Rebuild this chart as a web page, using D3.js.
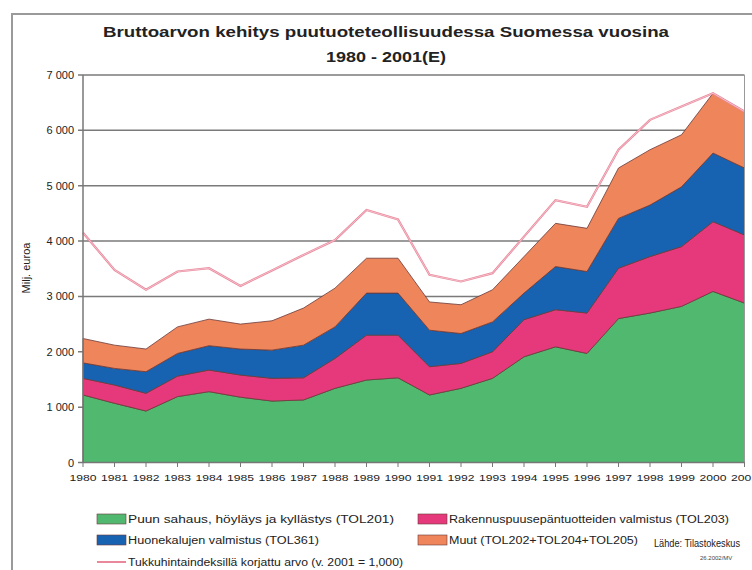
<!DOCTYPE html>
<html><head><meta charset="utf-8">
<script src="https://cdn.jsdelivr.net/npm/d3@7"></script>
<style>
  body { margin: 0; background: #fff; }
  svg { display: block; font-family: "Liberation Sans", Arial, sans-serif; }
</style>
</head>
<body>
<svg width="752" height="570"></svg>
<script>
// data (Milj. euroa)
const years = d3.range(1980, 2002);
const yearLabels = years.map(String);
const sahaus = [1220,1070,930,1190,1280,1180,1110,1130,1340,1490,1530,1220,1340,1520,1910,2090,1970,2600,2700,2820,3090,2880];
const rakennus = [300,330,320,370,390,400,410,400,540,810,770,510,450,480,670,670,730,910,1020,1080,1260,1230];
const huonekalut = [280,300,390,410,440,470,510,590,570,760,760,660,540,540,480,780,750,900,930,1080,1240,1210];
const muut = [440,420,410,480,480,450,530,670,700,630,630,510,520,580,660,780,780,910,1000,940,1080,1020];
const korjattu = [4150,3480,3120,3450,3510,3190,3470,3750,4020,4560,4390,3390,3270,3420,4080,4740,4620,5650,6190,6430,6670,6340];
const yTicks = [0,1000,2000,3000,4000,5000,6000,7000];

const keys = ["sahaus","rakennus","huonekalut","muut"];
const colors = {sahaus:"#50b86f", rakennus:"#e6397b", huonekalut:"#1763b2", muut:"#ef855a"};
const labels = {
  sahaus: "Puun sahaus, höyläys ja kyllästys (TOL201)",
  rakennus: "Rakennuspuusepäntuotteiden valmistus (TOL203)",
  huonekalut: "Huonekalujen valmistus (TOL361)",
  muut: "Muut (TOL202+TOL204+TOL205)"
};

let table = years.map((y, i) => ({year: y, sahaus: sahaus[i], rakennus: rakennus[i], huonekalut: huonekalut[i], muut: muut[i]}));

let svg = d3.select("svg");

// outer frame
svg.append("path").attr("d", "M12,575 V14 H752").attr("fill", "none")
  .attr("stroke", "#9a9a9a").attr("stroke-width", 2);

let x = d3.scaleLinear().domain([1980, 2001]).range([83, 744.5]);
let y = d3.scaleLinear().domain([0, 7000]).range([462.5, 75]);

// gridlines
svg.append("g").selectAll("line").data(yTicks.filter(d => d > 0)).enter().append("line")
  .attr("x1", 78).attr("x2", 744.5)
  .attr("y1", d => y(d)).attr("y2", d => y(d))
  .attr("stroke", "#7a7a7a").attr("stroke-width", 1.5);

// stacked areas
let series = d3.stack().keys(keys)(table);
let area = d3.area().x(d => x(d.data.year)).y0(d => y(d[0])).y1(d => y(d[1]));

svg.append("g").selectAll("path").data(series).enter().append("path")
  .attr("d", area)
  .attr("fill", d => colors[d.key])
  .attr("stroke", "#6a3a3a").attr("stroke-width", 0.8).attr("stroke-linejoin", "round");

// index-corrected line
let line = d3.line().x((d, i) => x(years[i])).y(d => y(d));
svg.append("path").datum(korjattu).attr("d", line)
  .attr("fill", "none").attr("stroke", "#e9879b").attr("stroke-width", 2.2);
svg.append("path").datum(korjattu).attr("d", line)
  .attr("fill", "none").attr("stroke", "#fbe3e8").attr("stroke-width", 0.6);

// axes
svg.append("line").attr("x1", 83).attr("x2", 83).attr("y1", 75).attr("y2", 462.5)
  .attr("stroke", "#777").attr("stroke-width", 1.5);
svg.append("line").attr("x1", 744.5).attr("x2", 744.5).attr("y1", 75).attr("y2", 462.5)
  .attr("stroke", "#999").attr("stroke-width", 1);
svg.append("line").attr("x1", 78).attr("x2", 744.5).attr("y1", 462.5).attr("y2", 462.5)
  .attr("stroke", "#777").attr("stroke-width", 1.5);

svg.append("g").selectAll("line").data(years).enter().append("line")
  .attr("x1", d => x(d)).attr("x2", d => x(d))
  .attr("y1", 462.5).attr("y2", 467)
  .attr("stroke", "#777").attr("stroke-width", 1);

svg.append("g").selectAll("text").data(yTicks).enter().append("text")
  .attr("x", 74).attr("y", d => y(d) + 4)
  .attr("text-anchor", "end").attr("font-size", 11).attr("fill", "#222")
  .text(d => d === 0 ? "0" : d3.format(",")(d).replace(",", " "));

svg.append("g").selectAll("text").data(years).enter().append("text")
  .attr("x", d => x(d)).attr("y", 481)
  .attr("text-anchor", "middle").attr("font-size", 9).attr("fill", "#222")
  .attr("textLength", 27).attr("lengthAdjust", "spacingAndGlyphs")
  .text((d, i) => yearLabels[i]);

svg.append("text")
  .attr("transform", "translate(30,268) rotate(-90)")
  .attr("text-anchor", "middle").attr("font-size", 11).attr("fill", "#222")
  .text("Milj. euroa");

// title
svg.append("text").attr("x", 386).attr("y", 37).attr("text-anchor", "middle")
  .attr("font-size", 15).attr("font-weight", "bold").attr("fill", "#222")
  .attr("textLength", 566).attr("lengthAdjust", "spacingAndGlyphs")
  .text("Bruttoarvon kehitys puutuoteteollisuudessa Suomessa vuosina");
svg.append("text").attr("x", 386).attr("y", 62).attr("text-anchor", "middle")
  .attr("font-size", 15).attr("font-weight", "bold").attr("fill", "#222")
  .attr("textLength", 120).attr("lengthAdjust", "spacingAndGlyphs")
  .text("1980 - 2001(E)");

// legend
let legendItems = [
  {key: "sahaus", x: 97, y: 519, w: 266},
  {key: "rakennus", x: 418, y: 519, w: 280},
  {key: "huonekalut", x: 97, y: 540, w: 191},
  {key: "muut", x: 418, y: 540, w: 189}
];
let lg = svg.append("g");
legendItems.forEach(it => {
  lg.append("rect").attr("x", it.x).attr("y", it.y - 5).attr("width", 29).attr("height", 10)
    .attr("fill", colors[it.key]).attr("stroke", "#6a3a3a").attr("stroke-width", 0.6);
  lg.append("text").attr("x", it.x + 31).attr("y", it.y + 4)
    .attr("font-size", 10).attr("fill", "#222")
    .attr("textLength", it.w).attr("lengthAdjust", "spacingAndGlyphs")
    .text(labels[it.key]);
});
lg.append("line").attr("x1", 97).attr("x2", 126).attr("y1", 562).attr("y2", 562)
  .attr("stroke", "#e9879b").attr("stroke-width", 2);
lg.append("text").attr("x", 128).attr("y", 566).attr("font-size", 10).attr("fill", "#222")
  .attr("textLength", 275).attr("lengthAdjust", "spacingAndGlyphs")
  .text("Tukkuhintaindeksillä korjattu arvo (v. 2001 = 1,000)");

lg.append("text").attr("x", 654).attr("y", 547).attr("font-size", 10).attr("fill", "#222")
  .attr("textLength", 86).attr("lengthAdjust", "spacingAndGlyphs")
  .text("Lähde: Tilastokeskus");
lg.append("text").attr("x", 700).attr("y", 560).attr("font-size", 6).attr("fill", "#444")
  .text("26.2002/MV");
</script>
</body></html>
